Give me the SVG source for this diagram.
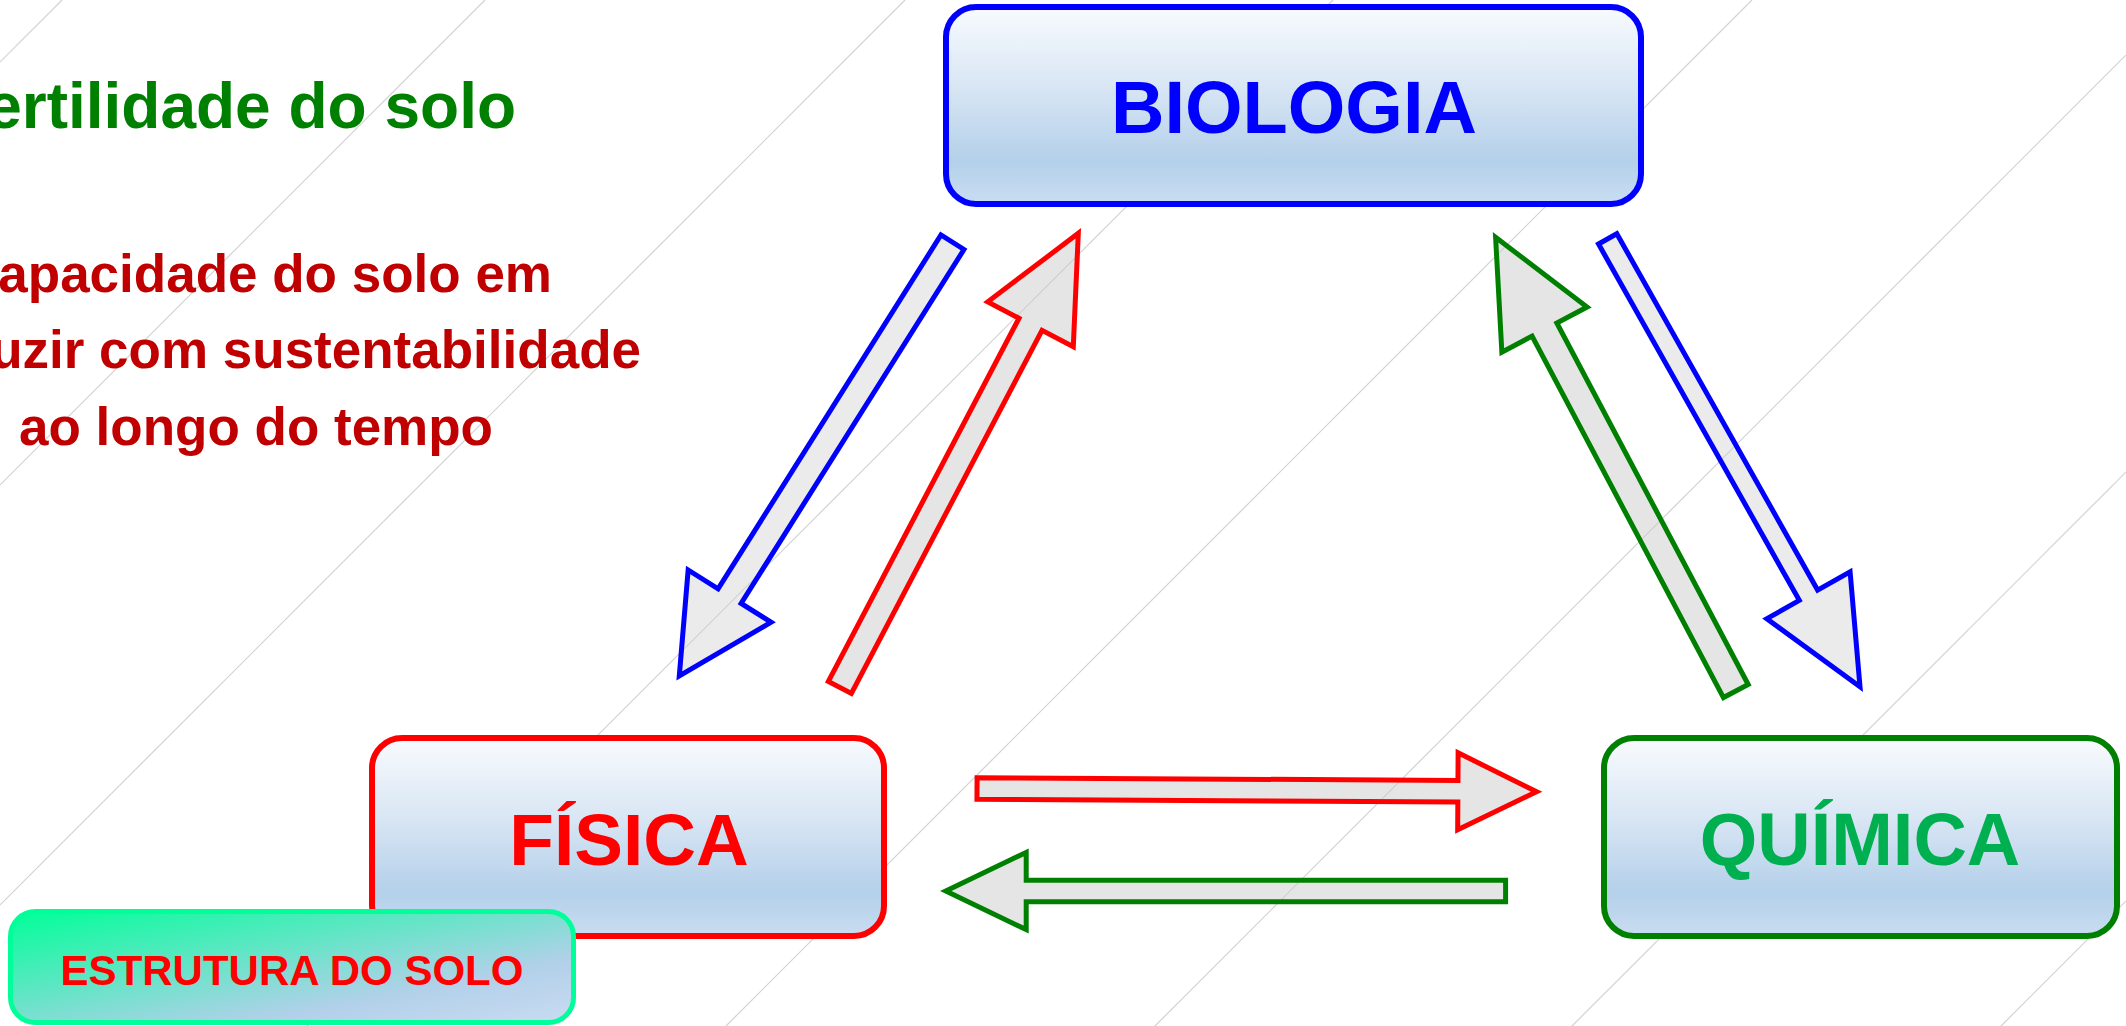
<svg xmlns="http://www.w3.org/2000/svg" width="2126" height="1026" viewBox="0 0 2126 1026">
  <defs>
    <linearGradient id="boxGrad" x1="0" y1="0" x2="0" y2="1">
      <stop offset="0" stop-color="#F8FBFE"/>
      <stop offset="0.4" stop-color="#D9E6F4"/>
      <stop offset="0.78" stop-color="#B4D0EA"/>
      <stop offset="1" stop-color="#C9DDF1"/>
    </linearGradient>
    <linearGradient id="soloGrad" x1="0" y1="0" x2="1" y2="1">
      <stop offset="0" stop-color="#00FF99"/>
      <stop offset="0.72" stop-color="#B3D0EA"/>
      <stop offset="1" stop-color="#C8DCF1"/>
    </linearGradient>
    <style>
      .bg { stroke: #D2D2D2; stroke-width: 1.2; fill: none; }
      .t { font-family: "Liberation Sans", Arial, sans-serif; font-weight: bold; }
      .box { fill: url(#boxGrad); stroke-width: 6; }
      .arr { stroke-width: 5; stroke-linejoin: miter; stroke-miterlimit: 10; fill-opacity: 0.45; }
      .arrB { fill: #CFCFCF; fill-opacity: 0.42; }
      .arrR { fill: #CCCCCC; fill-opacity: 0.5; }
    </style>
  </defs>

  <rect x="0" y="0" width="2126" height="1026" fill="#FFFFFF"/>

  <g id="background">
    <line class="bg" x1="62" y1="0" x2="-1038" y2="1100"/>
    <line class="bg" x1="485" y1="0" x2="-615" y2="1100"/>
    <line class="bg" x1="905" y1="0" x2="-195" y2="1100"/>
    <line class="bg" x1="1333" y1="0" x2="233" y2="1100"/>
    <line class="bg" x1="1752" y1="0" x2="652" y2="1100"/>
    <line class="bg" x1="2181" y1="0" x2="1081" y2="1100"/>
    <line class="bg" x1="2598" y1="0" x2="1498" y2="1100"/>
    <line class="bg" x1="3027" y1="0" x2="1927" y2="1100"/>
  </g>

  <g id="title">
    <text class="t" x="516" y="128" font-size="64" fill="#008000" text-anchor="end">ertilidade do solo</text>
  </g>
  <g id="definition" class="t" font-size="53" fill="#C00000" text-anchor="end">
    <text x="552" y="292">apacidade do solo em</text>
    <text x="641" y="368">uzir com sustentabilidade</text>
    <text x="493" y="445">ao longo do tempo</text>
  </g>

  <g id="connectors">
    <polygon class="arr arrB" stroke="#0000FF" transform="translate(679.3,676) rotate(122.2)" points="-512.6,-13.6 -94.4,-13.6 -94.4,-49 0,0 -94.4,49 -94.4,13.6 -512.6,13.6"/>
    <polygon class="arr arrR" stroke="#FF0000" transform="translate(1078.3,233.3) rotate(-62.3)" points="-512.9,-13 -102.8,-13 -102.8,-48.3 0,0 -102.8,48.3 -102.8,13 -512.9,13"/>
    <polygon class="arr arrR" stroke="#008000" transform="translate(1495.6,237.3) rotate(-117.9)" points="-513.4,-14 -104.4,-14 -104.4,-48.2 0,0 -104.4,48.2 -104.4,14 -513.4,14"/>
    <polygon class="arr arrB" stroke="#0000FF" transform="translate(1860,686.7) rotate(60.6)" points="-514,-10.5 -105,-10.5 -105,-47.8 0,0 -105,47.8 -105,10.5 -514,10.5"/>
    <polygon class="arr arrR" stroke="#FF0000" transform="translate(1536.6,791.7) rotate(0.33)" points="-559.6,-10.8 -78.7,-10.8 -78.7,-38.4 0,0 -78.7,38.4 -78.7,10.8 -559.6,10.8"/>
    <polygon class="arr arrR" stroke="#008000" transform="translate(945.8,891) rotate(180)" points="-559.8,-10.8 -80.4,-10.8 -80.4,-38.6 0,0 -80.4,38.6 -80.4,10.8 -559.8,10.8"/>
  </g>

  <g id="node-biologia">
    <rect class="box" x="946" y="7" width="695" height="197" rx="30" ry="30" stroke="#0000FF"/>
    <text class="t" x="1294" y="133" font-size="74" fill="#0000FF" text-anchor="middle">BIOLOGIA</text>
  </g>

  <g id="node-fisica">
    <rect class="box" x="372" y="738" width="512" height="198" rx="30" ry="30" stroke="#FF0000"/>
    <text class="t" x="629" y="865" font-size="73" fill="#FF0000" text-anchor="middle">FÍSICA</text>
  </g>

  <g id="node-quimica">
    <rect class="box" x="1604" y="738" width="513" height="198" rx="30" ry="30" stroke="#008000"/>
    <text class="t" x="1860" y="865" font-size="74" fill="#00B050" text-anchor="middle">QUÍMICA</text>
  </g>

  <g id="node-estrutura">
    <rect x="10.5" y="911.5" width="563" height="111" rx="25" ry="25" fill="url(#soloGrad)" stroke="#00FF99" stroke-width="5"/>
    <text class="t" x="292" y="985" font-size="42" fill="#FF0000" text-anchor="middle">ESTRUTURA DO SOLO</text>
  </g>
</svg>
